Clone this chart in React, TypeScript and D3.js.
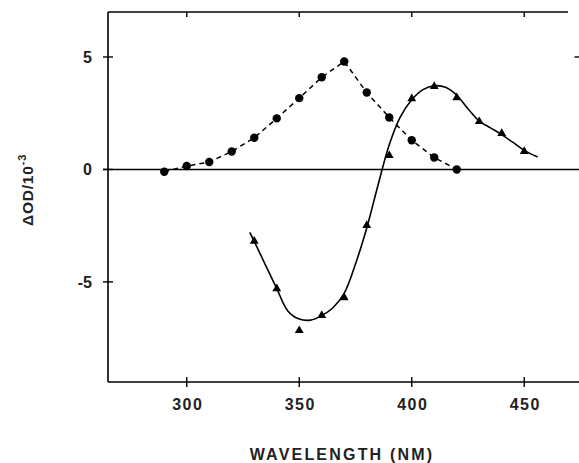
import React from "react";
import * as d3 from "d3";

// dashed series (circles)
const circleX = [290, 300, 310, 320, 330, 340, 350, 360, 370, 380, 390, 400, 410, 420];
const circleY = [-0.1, 0.15, 0.33, 0.8, 1.41, 2.27, 3.17, 4.1, 4.8, 3.42, 2.31, 1.3, 0.53, 0.0];

// triangle points
const triX = [330, 340, 350, 360, 370, 380, 390, 400, 410, 420, 430, 440, 450];
const triY = [-3.19, -5.3, -7.16, -6.49, -5.7, -2.49, 0.62, 3.15, 3.69, 3.19, 2.13, 1.6, 0.8];

// smooth solid curve as drawn through the triangles
const fitX = [328, 330, 335, 340, 345, 350, 355, 360, 365, 370, 375, 380, 385, 390, 395, 400, 405, 410, 415, 420, 425, 430, 435, 440, 445, 450, 456];
const fitY = [-2.8, -3.2, -4.25, -5.3, -6.3, -6.65, -6.7, -6.5, -6.15, -5.5, -4.2, -2.6, -0.7, 1.1, 2.35, 3.1, 3.55, 3.72, 3.65, 3.3, 2.7, 2.15, 1.85, 1.55, 1.2, 0.85, 0.55];

const xTicks = [300, 350, 400, 450];
const yTicks = [5, 0, -5];

const W = 579;
const H = 463;
const font = "'Liberation Sans', Arial, sans-serif";

export default function App() {
  const x = d3.scaleLinear().domain([265, 475]).range([108, 580.5]);
  const y = d3.scaleLinear().domain([-9.45, 7]).range([382, 12]);

  const dashed = d3
    .line<number>()
    .x((d) => x(d))
    .y((_, i) => y(circleY[i]));

  const solid = d3
    .line<number>()
    .x((d) => x(d))
    .y((_, i) => y(fitY[i]))
    .curve(d3.curveCatmullRom.alpha(0.5));

  const left = x.range()[0];
  const right = x.range()[1];
  const top = y.range()[1];
  const bottom = y.range()[0];

  const tri = d3.symbol().type(d3.symbolTriangle).size(34)();

  return (
    <svg
      width={W}
      height={H}
      style={{ position: "absolute", left: 0, top: 0, background: "#fff" }}
    >
      {/* frame (right side falls off the page) */}
      <g stroke="#000" strokeWidth={1.6} fill="none">
        <line x1={left} x2={568} y1={top} y2={top} />
        <line x1={left} x2={right} y1={bottom} y2={bottom} />
        <line x1={left} x2={left} y1={top} y2={bottom} />
        <line x1={left - 5} x2={right} y1={y(0)} y2={y(0)} />
      </g>

      {/* ticks */}
      <g stroke="#000" strokeWidth={1.4}>
        {yTicks.map((t) => (
          <line key={t} x1={left - 5} x2={left + 5} y1={y(t)} y2={y(t)} />
        ))}
        <line x1={right - 6} x2={right} y1={y(5)} y2={y(5)} />
        {xTicks.map((t) => (
          <g key={t}>
            <line x1={x(t)} x2={x(t)} y1={bottom - 5} y2={bottom + 5} />
            <line x1={x(t)} x2={x(t)} y1={top} y2={top + 5} />
          </g>
        ))}
      </g>

      {/* tick labels */}
      <g fontFamily={font} fontWeight="bold" fontSize={16} fill="#222">
        {yTicks.map((t) => (
          <text key={t} x={left - 16} y={y(t)} dy="0.36em" textAnchor="end">
            {t < 0 ? "-" + Math.abs(t) : String(t)}
          </text>
        ))}
        {xTicks.map((t) => (
          <text key={t} x={x(t) + 1} y={bottom + 28} textAnchor="middle" letterSpacing={1.5}>
            {t}
          </text>
        ))}
      </g>

      {/* axis titles */}
      <text
        x={342}
        y={460}
        textAnchor="middle"
        fontFamily={font}
        fontWeight="bold"
        fontSize={16}
        letterSpacing={2.2}
        fill="#222"
      >
        WAVELENGTH (NM)
      </text>
      <text
        transform={`translate(33, 190) rotate(-90)`}
        textAnchor="middle"
        fontFamily={font}
        fontWeight="bold"
        fontSize={15.5}
        letterSpacing={0.8}
        fill="#222"
      >
        ΔOD/10
        <tspan dy="-7" fontSize={11}>-3</tspan>
      </text>

      {/* dashed series */}
      <path
        d={dashed(circleX) ?? ""}
        fill="none"
        stroke="#000"
        strokeWidth={1.5}
        strokeDasharray="5,4"
      />
      {circleX.map((d, i) => (
        <circle key={d} cx={x(d)} cy={y(circleY[i])} r={4.2} fill="#000" />
      ))}

      {/* solid fitted curve */}
      <path d={solid(fitX) ?? ""} fill="none" stroke="#000" strokeWidth={1.6} />
      {triX.map((d, i) => (
        <path key={d} d={tri ?? ""} transform={`translate(${x(d)},${y(triY[i])})`} fill="#000" />
      ))}
    </svg>
  );
}
